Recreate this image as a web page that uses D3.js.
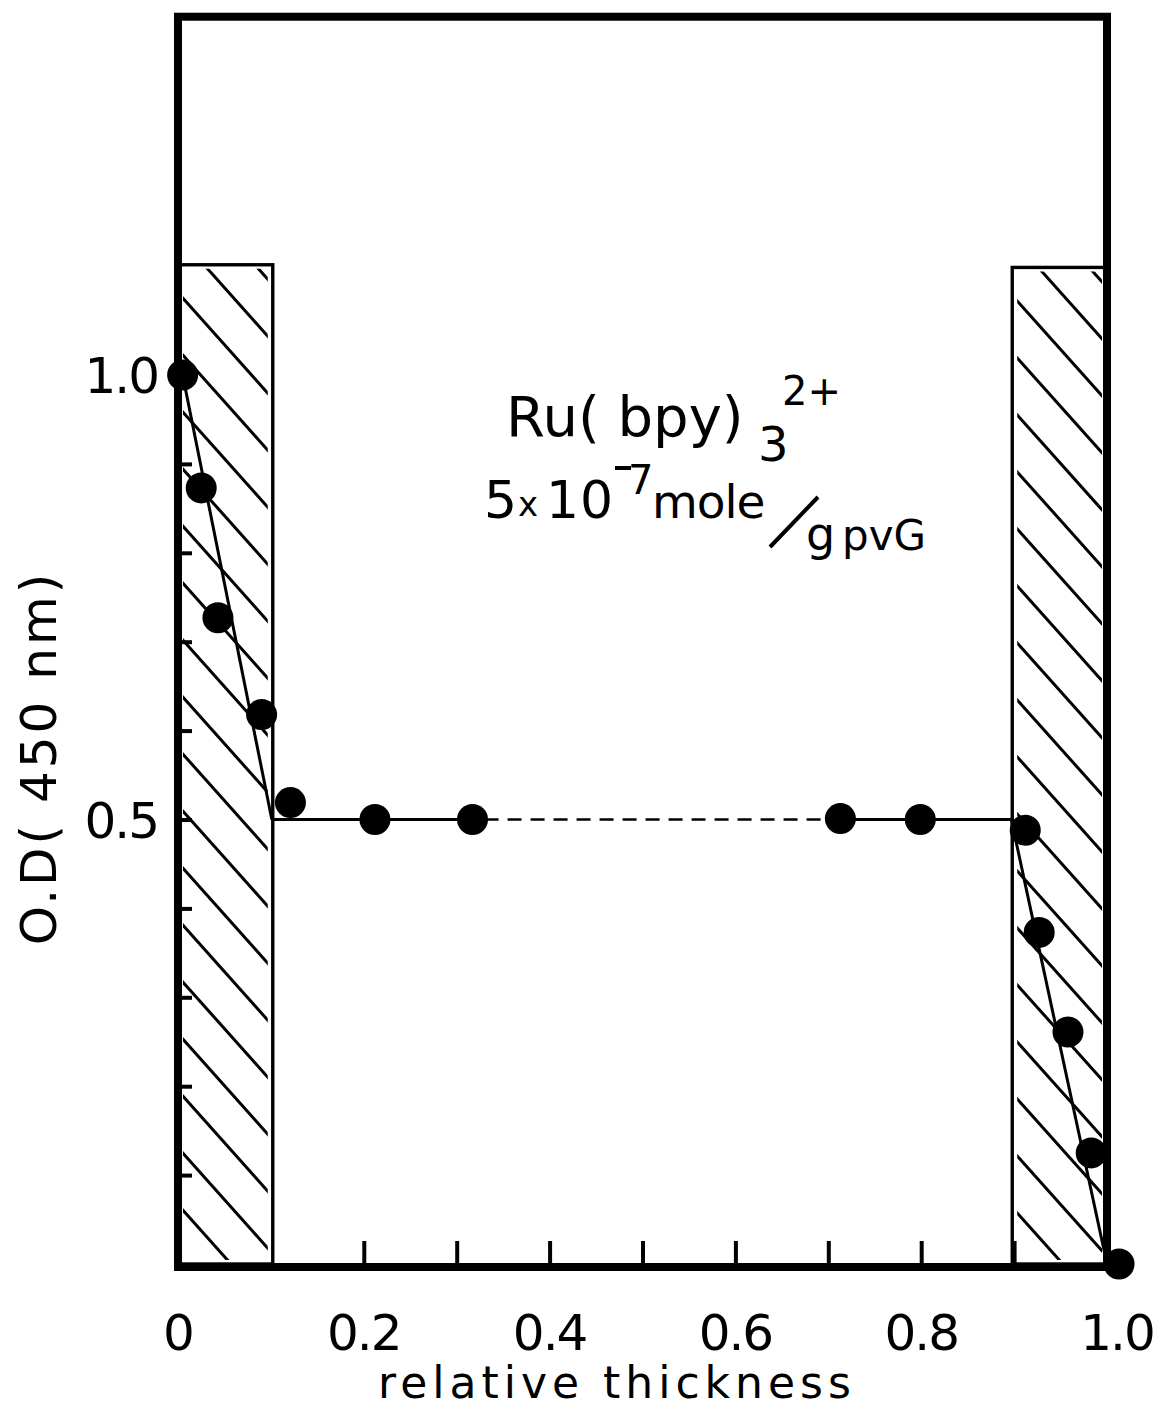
<!DOCTYPE html>
<html>
<head>
<meta charset="utf-8">
<script src="https://cdn.jsdelivr.net/npm/d3@7"></script>
<style>
  html, body { margin: 0; padding: 0; background: #fff; }
  svg { display: block; }
  text { font-family: "DejaVu Sans", sans-serif; fill: #000; }
</style>
</head>
<body>
<svg id="chart" width="1159" height="1407"></svg>
<script>
// ---------- data ----------
const thickness = [0.005, 0.025, 0.043, 0.090, 0.121, 0.212, 0.317, 0.713, 0.799, 0.912, 0.927, 0.958, 0.983, 1.013];
const od        = [1.000, 0.873, 0.727, 0.618, 0.519, 0.500, 0.500, 0.501, 0.500, 0.488, 0.373, 0.261, 0.125, 0.000];

// fitted lines
const fitLeft       = [[0.005, 1.0], [0.101, 0.5]];
const plateauSolid1 = [[0.101, 0.5], [0.33, 0.5]];
const plateauDashed = [[0.33, 0.5], [0.71, 0.5]];
const plateauSolid2 = [[0.71, 0.5], [0.897, 0.5]];
const fitRight      = [[0.897, 0.5], [1.0, 0.0]];

// hatched layer regions [x0, x1, top]
const layers = [[0.0, 0.102, 1.124], [0.898, 1.0, 1.121]];

const xTickLabels = ["0", "0.2", "0.4", "0.6", "0.8", "1.0"];
const xTickValues = [0, 0.2, 0.4, 0.6, 0.8, 1.0];
const xMinorTicks = [0.2, 0.3, 0.4, 0.5, 0.6, 0.7, 0.8, 0.9];
const yTickLabels = ["0.5", "1.0"];
const yTickValues = [0.5, 1.0];
const yMinorTicks = [0.1, 0.2, 0.3, 0.4, 0.5, 0.6, 0.7, 0.8, 0.9];

const yMax = 1.403;

// ---------- scales ----------
const x = d3.scaleLinear().domain([0, 1]).range([178, 1107]);
const y = d3.scaleLinear().domain([0, 1]).range([1264, 375]);

const svg = d3.select("#chart");

// hatched boxes
const defs = svg.append("defs");
layers.forEach((L, i) => {
  const x0 = x(L[0]), x1 = x(L[1]), y0 = y(L[2]), y1 = y(0);
  defs.append("clipPath").attr("id", "clip" + i)
    .append("rect").attr("x", x0 + 5).attr("y", y0 + 4)
    .attr("width", x1 - x0 - 10).attr("height", y1 - y0 - 8);
  const g = svg.append("g").attr("clip-path", `url(#clip${i})`);
  const slope = 1.12, spacing = 57;
  const w = x1 - x0;
  for (let s = y0 - w * slope; s < y1 + 20; s += spacing) {
    g.append("line")
      .attr("x1", x0).attr("y1", s + 20)
      .attr("x2", x1).attr("y2", s + 20 + w * slope)
      .attr("stroke", "#000").attr("stroke-width", 3);
  }
  svg.append("rect")
    .attr("x", x0).attr("y", y0).attr("width", w).attr("height", y1 - y0)
    .attr("fill", "none").attr("stroke", "#000").attr("stroke-width", 3.4);
});

// frame
svg.append("rect")
  .attr("x", x(0)).attr("y", y(yMax))
  .attr("width", x(1) - x(0)).attr("height", y(0) - y(yMax) + 3)
  .attr("fill", "none").attr("stroke", "#000").attr("stroke-width", 8);

// ticks (inward)
const xAxis = d3.axisTop(x).tickValues(xMinorTicks).tickSize(26).tickFormat("");
svg.append("g").attr("transform", `translate(0,${y(0) + 3})`).call(xAxis)
  .call(g => g.select(".domain").remove())
  .call(g => g.selectAll(".tick line").attr("stroke", "#000").attr("stroke-width", 4));

const yAxis = d3.axisRight(y).tickValues(yMinorTicks).tickSize(14).tickFormat("");
svg.append("g").attr("transform", `translate(${x(0)},0)`).call(yAxis)
  .call(g => g.select(".domain").remove())
  .call(g => g.selectAll(".tick line").attr("stroke", "#000").attr("stroke-width", 4));

// tick labels
svg.append("g").selectAll("text").data(xTickValues).join("text")
  .attr("x", (d, i) => x(d) + (i === 5 ? 10 : 0))
  .attr("y", 1350)
  .attr("text-anchor", "middle")
  .attr("font-size", 50)
  .attr("letter-spacing", -2)
  .text((d, i) => xTickLabels[i]);

svg.append("g").selectAll("text").data(yTickValues).join("text")
  .attr("x", 158)
  .attr("y", d => y(d) + 18)
  .attr("text-anchor", "end")
  .attr("font-size", 50)
  .attr("letter-spacing", -2)
  .text((d, i) => yTickLabels[i]);

// axis titles
svg.append("text")
  .attr("x", 617).attr("y", 1398)
  .attr("text-anchor", "middle")
  .attr("font-size", 44)
  .attr("letter-spacing", 5)
  .text("relative thickness");

svg.append("text")
  .attr("transform", "translate(56,758) rotate(-90)")
  .attr("text-anchor", "middle")
  .attr("font-size", 50)
  .attr("letter-spacing", 3)
  .text("O.D( 450 nm)");

// lines
const line = d3.line().x(d => x(d[0])).y(d => y(d[1]));
[fitLeft, plateauSolid1, plateauSolid2, fitRight].forEach(seg => {
  svg.append("path").attr("d", line(seg))
    .attr("fill", "none").attr("stroke", "#000").attr("stroke-width", 3);
});
svg.append("path").attr("d", line(plateauDashed))
  .attr("fill", "none").attr("stroke", "#000").attr("stroke-width", 2.5)
  .attr("stroke-dasharray", "14,9");

// points
svg.append("g").selectAll("circle").data(thickness).join("circle")
  .attr("cx", d => x(d))
  .attr("cy", (d, i) => y(od[i]))
  .attr("r", 15.5)
  .attr("fill", "#000");

// annotation
svg.append("text").attr("x", 506).attr("y", 436).attr("font-size", 56).text("Ru( bpy)");
svg.append("text").attr("x", 758).attr("y", 461).attr("font-size", 48).text("3");
svg.append("text").attr("x", 782).attr("y", 405).attr("font-size", 40).text("2+");
svg.append("text").attr("x", 484).attr("y", 518).attr("font-size", 52).text("5");
svg.append("text").attr("x", 518).attr("y", 516).attr("font-size", 34).text("x");
svg.append("text").attr("x", 546).attr("y", 518).attr("font-size", 52).attr("letter-spacing", 1).text("10");
svg.append("line").attr("x1", 615).attr("y1", 468).attr("x2", 631).attr("y2", 468)
  .attr("stroke", "#000").attr("stroke-width", 4);
svg.append("text").attr("x", 628).attr("y", 494).attr("font-size", 40).text("7");
svg.append("text").attr("x", 652).attr("y", 518).attr("font-size", 47).attr("letter-spacing", -1).text("mole");
svg.append("line").attr("x1", 770).attr("y1", 547).attr("x2", 818).attr("y2", 497)
  .attr("stroke", "#000").attr("stroke-width", 4);
svg.append("text").attr("x", 806).attr("y", 550).attr("font-size", 46).text("g");
svg.append("text").attr("x", 842).attr("y", 550).attr("font-size", 42).text("pvG");
</script>
</body>
</html>
